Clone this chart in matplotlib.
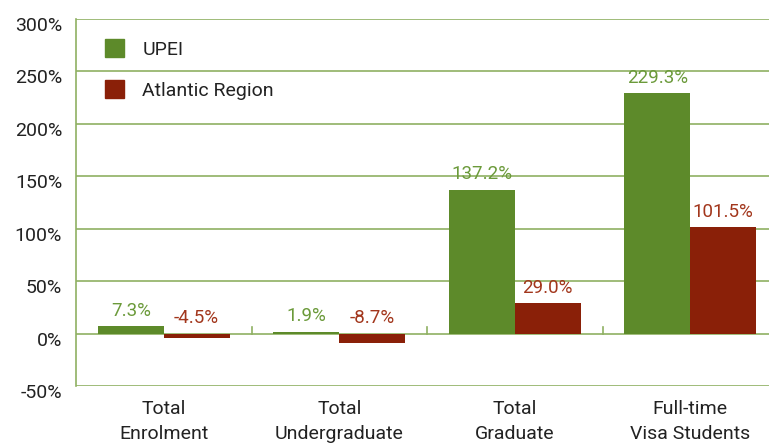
import matplotlib
matplotlib.use("Agg")
import matplotlib.pyplot as plt
import matplotlib.transforms as mtransforms
import numpy as np
from matplotlib.patches import Patch

categories = ["Total\nEnrolment", "Total\nUndergraduate", "Total\nGraduate", "Full-time\nVisa Students"]
upei = [7.3, 1.9, 137.2, 229.3]
atlantic = [-4.5, -8.7, 29.0, 101.5]
yticks = [-50, 0, 50, 100, 150, 200, 250, 300]
ytick_labels = ["-50%", "0%", "50%", "100%", "150%", "200%", "250%", "300%"]

plt.rcParams['font.family'] = ['Roboto', 'DejaVu Sans']

GREEN = "#5d8a2a"
RED = "#8a2008"
GREEN_TXT = "#6b9a3a"
RED_TXT = "#a2361c"
GRID = "#8fb062"

W, H = 769, 444
fig = plt.figure(figsize=(W/100, H/100), dpi=100)
ax = fig.add_axes([76/W, 1-386/H, (778-76)/W, (386-19)/H])

x = np.arange(len(categories))
bw = 0.375
ax.bar(x - bw/2, upei, bw, color=GREEN, zorder=3)
ax.bar(x + bw/2, atlantic, bw, color=RED, zorder=3)

for xi, v in zip(x - bw/2, upei):
    ax.annotate(f"{v:.1f}%", (xi, max(v, 0)), xytext=(0, 4.5), textcoords="offset points",
                ha="center", va="bottom", color=GREEN_TXT, fontsize=13.5)
for xi, v in zip(x + bw/2, atlantic):
    ax.annotate(f"{v:.1f}%", (xi, max(v, 0)), xytext=(0, 4.5), textcoords="offset points",
                ha="center", va="bottom", color=RED_TXT, fontsize=13.5)

ax.set_xlim(-0.5, len(categories) - 0.5)
ax.set_ylim(-50, 300)
ax.set_yticks(yticks)
ax.set_yticklabels(ytick_labels, fontsize=14, color="#222222")
ax.tick_params(axis="y", length=0, pad=10)
offset = mtransforms.ScaledTranslation(0, -5/100, fig.dpi_scale_trans)
for lbl in ax.get_yticklabels():
    lbl.set_transform(lbl.get_transform() + offset)
ax.set_xticks(x)
ax.set_xticklabels(categories, fontsize=14, color="#222222", linespacing=1.5)
ax.tick_params(axis="x", length=0, pad=10)

for y in yticks:
    ax.axhline(y, color=GRID, lw=1.2, zorder=1)
for b in np.arange(0.5, len(categories), 1):
    ax.plot([b, b], [0, 6], color=GRID, lw=1.2, zorder=2)

for s in ["top", "right", "bottom"]:
    ax.spines[s].set_visible(False)
ax.spines["left"].set_color(GRID)
ax.spines["left"].set_linewidth(1.2)

handles = [Patch(color=GREEN, label="UPEI"), Patch(color=RED, label="Atlantic Region")]
leg = ax.legend(handles=handles, loc="upper left", bbox_to_anchor=(11/702, 1 - 3/367),
                frameon=False, fontsize=14, handlelength=1.0, handleheight=1.0,
                handletextpad=0.95, labelspacing=1.1)
for t in leg.get_texts():
    t.set_color("#222222")

fig.savefig("out.png", dpi=100)
